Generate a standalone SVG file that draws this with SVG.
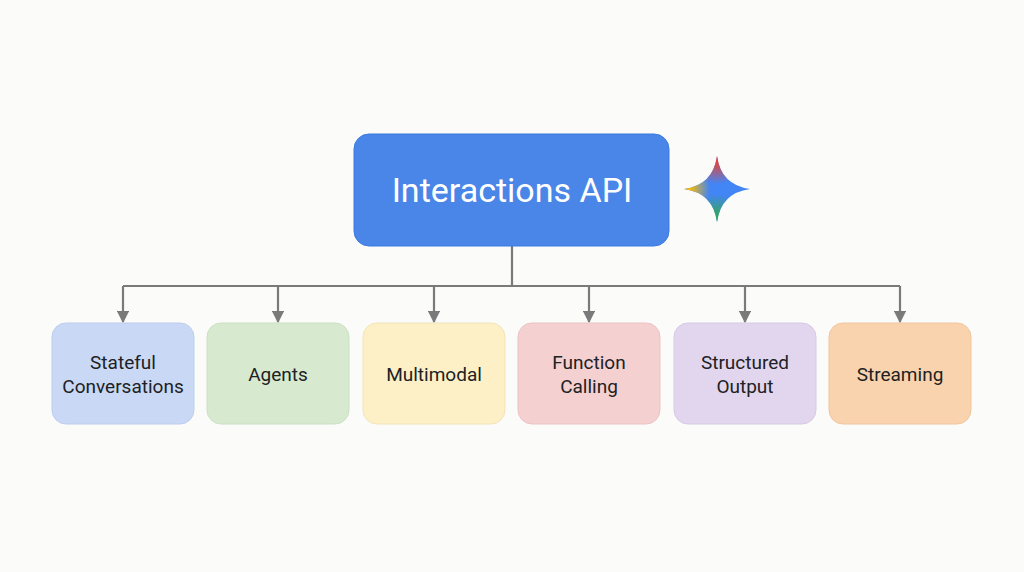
<svg xmlns="http://www.w3.org/2000/svg" width="1024" height="572" viewBox="0 0 1024 572">
<style>
.lbl{font-family:Roboto,"Liberation Sans",sans-serif;font-size:19px;fill:#202124;text-anchor:middle}
.ttl{font-family:Roboto,"Liberation Sans",sans-serif;font-size:34px;fill:#fff;text-anchor:middle}
.con{stroke:#7a7a7a;stroke-width:2.2;fill:none}
.box{stroke-width:1}
</style>
<defs>
<marker id="ah" viewBox="0 0 10 10" refX="9" refY="5" markerWidth="5.5" markerHeight="5.5" orient="auto" markerUnits="strokeWidth"><path d="M0,0L10,5L0,10Z" fill="#7a7a7a"/></marker>
<path id="star" d="M717,156 Q721,185 750,189 Q721,193 717,222 Q713,193 684,189 Q713,185 717,156 Z"/>
<clipPath id="sc"><use href="#star"/></clipPath>
<radialGradient id="gr" cx="717" cy="156" r="28" gradientUnits="userSpaceOnUse"><stop offset="0.2" stop-color="#EA4335"/><stop offset="1" stop-color="#EA4335" stop-opacity="0"/></radialGradient>
<radialGradient id="gy" cx="684" cy="189" r="26" gradientUnits="userSpaceOnUse"><stop offset="0.2" stop-color="#FBBC04"/><stop offset="1" stop-color="#FBBC04" stop-opacity="0"/></radialGradient>
<radialGradient id="gg" cx="717" cy="222" r="28" gradientUnits="userSpaceOnUse"><stop offset="0.2" stop-color="#34A853"/><stop offset="1" stop-color="#34A853" stop-opacity="0"/></radialGradient>
</defs>
<rect width="1024" height="572" fill="#fbfbf9"/>
<g id="connectors">
<path class="con" d="M512,246V286M123,286H900"/>
<path class="con" marker-end="url(#ah)" d="M123,286V322"/>
<path class="con" marker-end="url(#ah)" d="M278,286V322"/>
<path class="con" marker-end="url(#ah)" d="M434,286V322"/>
<path class="con" marker-end="url(#ah)" d="M589,286V322"/>
<path class="con" marker-end="url(#ah)" d="M745,286V322"/>
<path class="con" marker-end="url(#ah)" d="M900,286V322"/>
</g>
<g id="api">
<rect x="354" y="134" width="315" height="112" rx="15" fill="#4a86e8" stroke="#3b78e0"/>
<text class="ttl" x="512" y="202">Interactions API</text>
</g>
<g id="sparkle" clip-path="url(#sc)">
<rect x="680" y="152" width="74" height="74" fill="#4285F4"/>
<rect x="680" y="152" width="74" height="74" fill="url(#gg)"/>
<rect x="680" y="152" width="74" height="74" fill="url(#gy)"/>
<rect x="680" y="152" width="74" height="74" fill="url(#gr)"/>
</g>
<g id="n1"><rect class="box" x="52" y="323" width="142" height="101" rx="14" fill="#c9d9f5" stroke="#bccdee"/><text class="lbl" x="123" y="369">Stateful</text><text class="lbl" x="123" y="393">Conversations</text></g>
<g id="n2"><rect class="box" x="207" y="323" width="142" height="101" rx="14" fill="#d7eacf" stroke="#cbe0c2"/><text class="lbl" x="278" y="381">Agents</text></g>
<g id="n3"><rect class="box" x="363" y="323" width="142" height="101" rx="14" fill="#fdf0c6" stroke="#f3e4b6"/><text class="lbl" x="434" y="381">Multimodal</text></g>
<g id="n4"><rect class="box" x="518" y="323" width="142" height="101" rx="14" fill="#f5d0d0" stroke="#ecc3c3"/><text class="lbl" x="589" y="369">Function</text><text class="lbl" x="589" y="393">Calling</text></g>
<g id="n5"><rect class="box" x="674" y="323" width="142" height="101" rx="14" fill="#e2d6ee" stroke="#d6c9e6"/><text class="lbl" x="745" y="369">Structured</text><text class="lbl" x="745" y="393">Output</text></g>
<g id="n6"><rect class="box" x="829" y="323" width="142" height="101" rx="14" fill="#f9d3ad" stroke="#f0c59d"/><text class="lbl" x="900" y="381">Streaming</text></g>
</svg>
